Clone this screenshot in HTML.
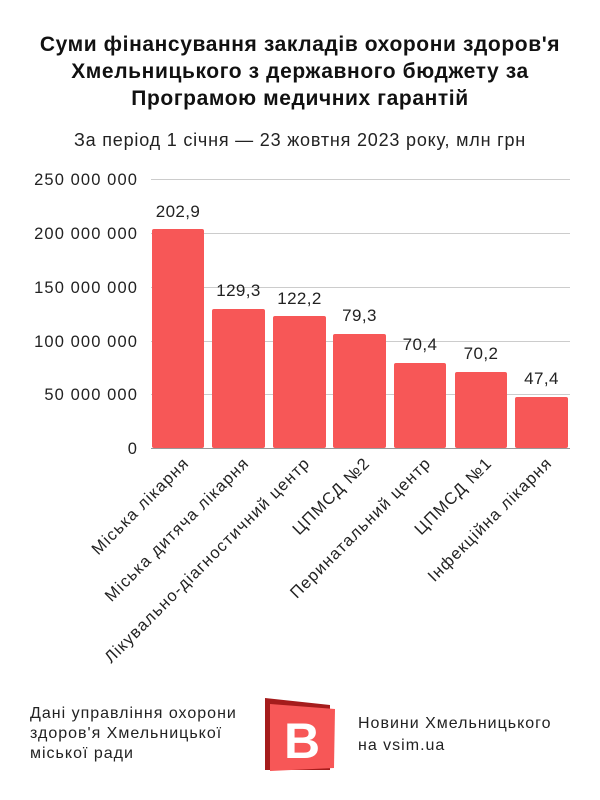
<!DOCTYPE html><html><head><meta charset="utf-8"><style>
body{margin:0;background:#fff}
svg{display:block;font-family:"Liberation Sans","DejaVu Sans",sans-serif}
</style></head><body>
<svg width="600" height="800" viewBox="0 0 600 800" xmlns="http://www.w3.org/2000/svg">
<rect width="600" height="800" fill="#fff"/>
<g font-weight="bold" font-size="21" text-anchor="middle" fill="#111" letter-spacing="0.6">
<text x="300" y="51">Суми фінансування закладів охорони здоров'я</text>
<text x="300" y="78">Хмельницького з державного бюджету за</text>
<text x="300" y="105">Програмою медичних гарантій</text>
</g>
<text x="300" y="146" text-anchor="middle" font-size="18" letter-spacing="0.8" fill="#222">За період 1 січня — 23 жовтня 2023 року, млн грн</text>
<g stroke="#ccc" stroke-width="1">
<line x1="151" x2="570" y1="179.5" y2="179.5"/><line x1="151" x2="570" y1="233.5" y2="233.5"/>
<line x1="151" x2="570" y1="287.5" y2="287.5"/><line x1="151" x2="570" y1="341.5" y2="341.5"/>
<line x1="151" x2="570" y1="394.5" y2="394.5"/>
</g>
<g font-size="16.5" text-anchor="end" fill="#222" letter-spacing="1.1">
<text x="138" y="185">250 000 000</text><text x="138" y="239">200 000 000</text>
<text x="138" y="293">150 000 000</text><text x="138" y="347">100 000 000</text>
<text x="138" y="400">50 000 000</text><text x="138" y="454">0</text>
</g>
<g fill="#f75757">
<rect x="152" y="229" width="52" height="219" rx="2"/>
<rect x="212" y="309" width="53" height="139" rx="2"/>
<rect x="273" y="316" width="53" height="132" rx="2"/>
<rect x="333" y="334" width="53" height="114" rx="2"/>
<rect x="394" y="363" width="52" height="85" rx="2"/>
<rect x="455" y="372" width="52" height="76" rx="2"/>
<rect x="515" y="397" width="53" height="51" rx="2"/>
</g>
<line x1="151" x2="570" y1="448.5" y2="448.5" stroke="#999"/>
<g font-size="17" text-anchor="middle" fill="#222" letter-spacing="0.4">
<text x="178" y="217">202,9</text><text x="238.5" y="296">129,3</text>
<text x="299.5" y="304">122,2</text><text x="359.5" y="321">79,3</text>
<text x="420" y="350">70,4</text><text x="481" y="359">70,2</text>
<text x="541.5" y="384">47,4</text>
</g>
<g font-size="16.5" text-anchor="end" fill="#222" letter-spacing="1.2">
<text transform="translate(190,464) rotate(-45)">Міська лікарня</text>
<text transform="translate(250,464) rotate(-45)">Міська дитяча лікарня</text>
<text transform="translate(311,464) rotate(-45)">Лікувально-діагностичний центр</text>
<text transform="translate(371,464) rotate(-45)">ЦПМСД №2</text>
<text transform="translate(432,464) rotate(-45)">Перинатальний центр</text>
<text transform="translate(493,464) rotate(-45)">ЦПМСД №1</text>
<text transform="translate(553,464) rotate(-45)">Інфекційна лікарня</text>
</g>
<g font-size="16" fill="#222" letter-spacing="1">
<text x="30" y="718">Дані управління охорони</text>
<text x="30" y="738">здоров'я Хмельницької</text>
<text x="30" y="758">міської ради</text>
<text x="358" y="728">Новини Хмельницького</text>
<text x="358" y="750">на vsim.ua</text>
</g>
<polygon points="265,698 330,705 330,770 265,770" fill="#a51c1c"/>
<polygon points="270,704 335,709 334,768 270,771" fill="#f75757"/>
<text x="302" y="758" text-anchor="middle" font-size="50" font-weight="bold" fill="#fff">B</text>
</svg>
</body></html>
